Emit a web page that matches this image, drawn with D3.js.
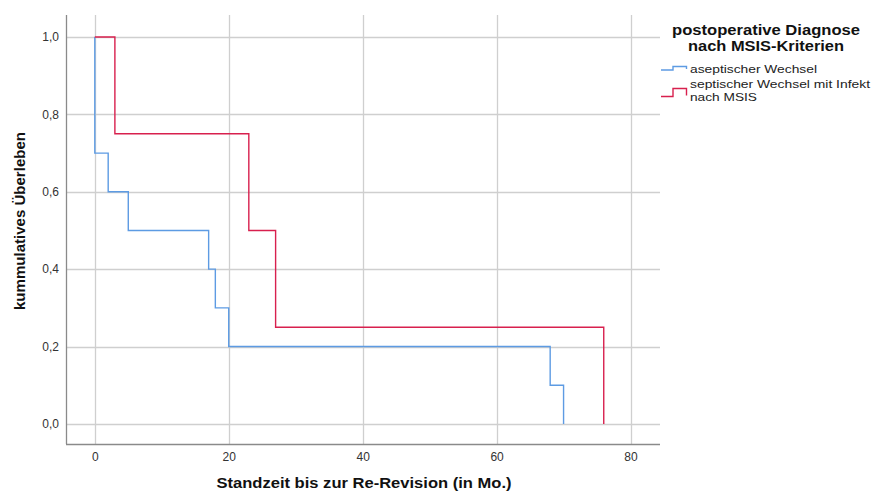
<!DOCTYPE html>
<html>
<head>
<meta charset="utf-8">
<script src="https://cdn.jsdelivr.net/npm/d3@7"></script>
<style>
  body { margin: 0; background: #fff; }
  svg { display: block; }
</style>
</head>
<body>
<svg id="chart" width="873" height="493"></svg>
<script>
// Kaplan-Meier steps: [time, survival after event]
const aseptTimes = [0, 2, 5, 17, 18, 20, 68, 70];
const aseptSurv = [0.7, 0.6, 0.5, 0.4, 0.3, 0.2, 0.1, 0.0];
const septTimes = [3, 23, 27, 76];
const septSurv = [0.75, 0.5, 0.25, 0.0];
const xTicks = [0, 20, 40, 60, 80];
const yTicks = [0, 0.2, 0.4, 0.6, 0.8, 1.0];
const legendTitle = ['postoperative Diagnose', 'nach MSIS-Kriterien'];
const legendLabels = [["aseptischer Wechsel"], ["septischer Wechsel mit Infekt", "nach MSIS"]];
const colors = ["#5d9be3", "#d8204e"];

const plotLeft = 66, plotRight = 660, plotTop = 15, plotBottom = 444;
const font = '"Liberation Sans", Arial, sans-serif';
const svg = d3.select('#chart');

const x = d3.scaleLinear().domain([-4.3, 84.4]).range([plotLeft, plotRight]);
const y = d3.scaleLinear().domain([-0.052, 1.057]).range([plotBottom, plotTop]);
const fmt = d3.format('.1f');

// grid
svg.append('g').selectAll('line').data(yTicks).enter()
    .append('line')
    .attr('x1', plotLeft).attr('x2', plotRight)
    .attr('y1', v => Math.round(y(v)) + 0.5).attr('y2', v => Math.round(y(v)) + 0.5)
    .attr('stroke', '#cfcfcf').attr('stroke-width', 1.3);
svg.append('g').selectAll('line').data(xTicks).enter()
    .append('line')
    .attr('y1', plotTop).attr('y2', plotBottom)
    .attr('x1', v => Math.round(x(v)) + 0.5).attr('x2', v => Math.round(x(v)) + 0.5)
    .attr('stroke', '#cfcfcf').attr('stroke-width', 1.3);

// axes
const xAxis = svg.append('g').attr('transform', `translate(0,${plotBottom})`)
    .call(d3.axisBottom(x).tickValues(xTicks).tickSize(0).tickPadding(8));
const yAxis = svg.append('g').attr('transform', `translate(${plotLeft},0)`)
    .call(d3.axisLeft(y).tickValues(yTicks).tickSize(0).tickPadding(7).tickFormat(v => fmt(v).replace('.', ',')));
[xAxis, yAxis].forEach(a => {
    a.select('.domain').attr('stroke', '#8a8a8a').attr('stroke-width', 1.3);
    a.selectAll('text').attr('font-family', font)
        .attr('font-size', '12px').attr('fill', '#333');
});
xAxis.select('.domain').attr('d', `M${plotLeft},0.5H${plotRight}`);
yAxis.select('.domain').attr('d', `M0.5,${plotTop}V${plotBottom}`);

// step curves
function stepPoints(times, surv) {
    const pts = [[0, 1]];
    let prev = 1;
    times.forEach((t, i) => {
        pts.push([t, prev]);
        pts.push([t, surv[i]]);
        prev = surv[i];
    });
    return pts;
}
const line = d3.line().x(d => x(d[0])).y(d => y(d[1]));
[[aseptTimes, aseptSurv], [septTimes, septSurv]].forEach((s, i) => {
    svg.append('path')
        .attr('d', line(stepPoints(s[0], s[1])))
        .attr('fill', 'none')
        .attr('stroke', colors[i])
        .attr('stroke-width', 1.4);
});

// axis titles
svg.append('text')
    .attr('x', 364).attr('y', 488)
    .attr('text-anchor', 'middle')
    .attr('font-family', font)
    .attr('font-weight', 'bold').attr('font-size', '15.5px').attr('fill', '#111')
    .attr('textLength', 295).attr('lengthAdjust', 'spacingAndGlyphs')
    .text('Standzeit bis zur Re-Revision (in Mo.)');
svg.append('text')
    .attr('transform', 'translate(25,221) rotate(-90)')
    .attr('text-anchor', 'middle')
    .attr('font-family', font)
    .attr('font-weight', 'bold').attr('font-size', '15.5px').attr('fill', '#111')
    .attr('textLength', 178).attr('lengthAdjust', 'spacingAndGlyphs')
    .text('kummulatives Überleben');

// legend
const legend = svg.append('g');
const titleLen = [188, 156];
legend.selectAll('text.title').data(legendTitle).enter()
    .append('text')
    .attr('x', 766).attr('y', (v, i) => 35 + i * 16)
    .attr('text-anchor', 'middle')
    .attr('font-family', font)
    .attr('font-weight', 'bold').attr('font-size', '14px').attr('fill', '#111')
    .attr('textLength', (v, i) => titleLen[i]).attr('lengthAdjust', 'spacingAndGlyphs')
    .text(v => v);
const itemY = [73, 88];
const symY = [[70, 66.5], [96.5, 88.5]];
const labelLen = [[127], [180, 67]];
legendLabels.forEach((lines, i) => {
    const [lo, hi] = symY[i];
    legend.append('path')
        .attr('d', `M661,${lo}H673V${hi}H686.5V${lo - 1}`)
        .attr('fill', 'none').attr('stroke', colors[i]).attr('stroke-width', 1.4);
    lines.forEach((t, j) => {
        legend.append('text')
            .attr('x', 690).attr('y', itemY[i] + j * 13)
            .attr('font-family', font)
            .attr('font-size', '11.5px').attr('fill', '#222')
            .attr('textLength', labelLen[i][j]).attr('lengthAdjust', 'spacingAndGlyphs')
            .text(t);
    });
});
</script>
</body>
</html>
